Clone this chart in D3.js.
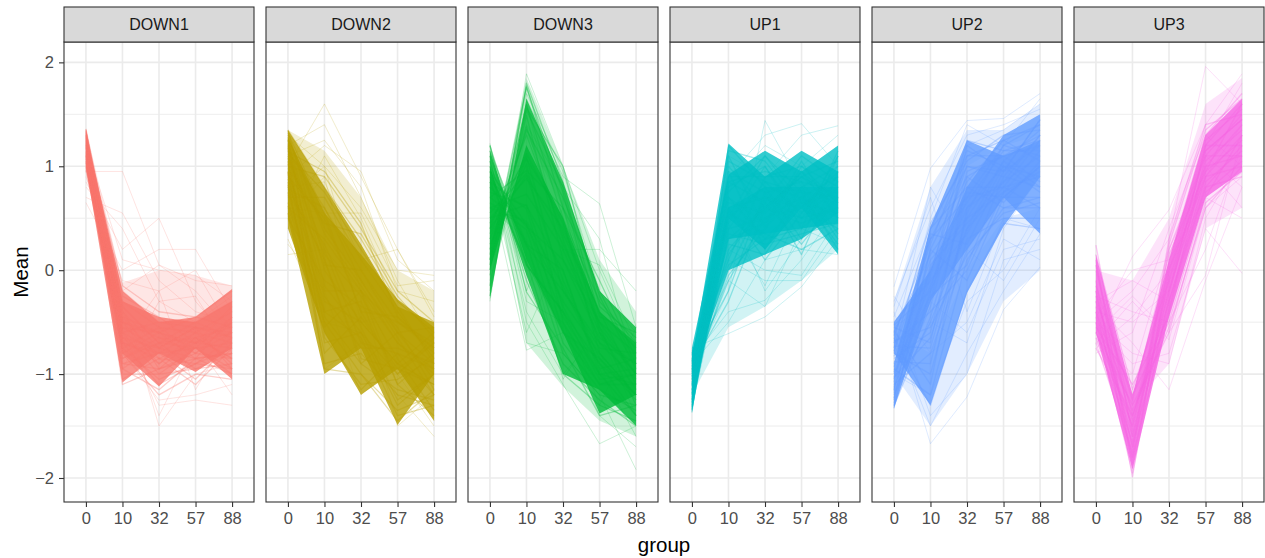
<!DOCTYPE html>
<html><head><meta charset="utf-8">
<script src="https://cdn.jsdelivr.net/npm/d3@7"></script>
<style>body{margin:0;background:#fff}svg{display:block}</style>
</head><body>
<svg id="c" width="1265" height="558"></svg>
<script>
const panels = ["DOWN1","DOWN2","DOWN3","UP1","UP2","UP3"];
const groups = ["0","10","32","57","88"];
const yTicks = [-2,-1,0,1,2];
const yMinor = [-1.5,-0.5,0.5,1.5];
const colors = ["#F8766D","#B79F00","#00BA38","#00BFC4","#619CFF","#F564E3"];

// dense cores of each cluster: pairs of edge profiles at groups 0,10,32,57,88
const down1Bands = [
 [[1.00,-1.08,-0.80,-0.98,-0.75],[1.36,-0.30,-0.45,-0.50,-0.30]],
 [[0.98,-0.80,-1.12,-0.75,-1.05],[1.30,-0.20,-0.50,-0.45,-0.18]]];
const down2Bands = [
 [[0.50,-1.00,-0.75,-1.49,-1.00],[1.35,0.80,0.25,-0.35,-0.50]],
 [[0.40,-0.60,-1.20,-0.95,-1.45],[1.28,0.55,0.15,-0.28,-0.55]]];
const down3Bands = [
 [[-0.28,1.65,0.85,-0.20,-0.55],[1.15,0.10,-0.60,-1.38,-1.20]],
 [[0.00,1.20,0.50,-0.40,-0.70],[1.00,-0.05,-1.00,-1.15,-1.50]]];
const up1Bands = [
 [[-1.37,0.50,0.20,0.60,0.15],[-0.85,1.22,0.90,1.15,0.95]],
 [[-1.30,0.30,0.35,0.40,0.45],[-0.75,0.92,1.15,0.95,1.20]],
 [[-1.00,0.00,0.15,0.30,0.55],[-0.80,0.60,0.80,0.80,0.80]]];
const up2Bands = [
 [[-1.33,-0.30,0.20,0.70,0.35],[-0.90,0.42,1.25,1.10,1.25]],
 [[-0.80,-1.30,-0.22,0.42,0.90],[-0.50,0.00,0.80,1.30,1.50]]];
const up3Bands = [
 [[-0.60,-1.92,-0.45,0.70,0.95],[0.15,-1.20,0.10,1.30,1.65]]];

// sparser spread around each core
const down1Halo = [[[1.00,-0.60,-0.60,-0.60,-0.55],[1.36,-0.12,0.00,-0.05,-0.15]]];
const down2Halo = [[[1.00,0.40,-0.10,-0.50,-0.80],[1.35,1.15,0.70,0.00,-0.20]]];
const down3Halo = [[[1.00,-0.70,-1.12,-1.45,-1.60],[1.20,0.20,-0.50,-1.00,-1.20]],
                   [[-0.20,1.30,0.60,-0.40,-0.70],[0.10,1.85,1.00,0.10,-0.40]]];
const up1Halo = [[[-1.20,-0.55,-0.35,-0.10,0.20],[-0.90,0.30,0.40,0.50,0.50]]];
const up2Halo = [[[-1.00,-1.50,-1.00,-0.30,0.00],[-0.60,-0.80,0.00,0.50,0.60]],
                 [[-0.80,0.00,1.00,1.20,1.30],[-0.30,0.80,1.35,1.35,1.60]]];
const up3Halo = [[[-0.70,-1.30,-0.90,0.40,0.60],[0.00,-0.10,0.50,1.60,1.85]]];

// individual trajectories (values at groups 0,10,32,57,88)
const down1Core = [
[1.36,-0.35,-0.70,-0.65,-0.55],[1.33,-0.60,-0.80,-0.75,-0.70],[1.30,-0.90,-0.95,-0.80,-0.85],[1.28,-0.45,-0.60,-0.70,-0.50],
[1.25,-0.75,-1.05,-0.90,-0.95],[1.22,-1.05,-0.85,-0.70,-0.75],[1.20,-0.55,-0.75,-0.55,-0.65],[1.18,-0.30,-0.55,-0.60,-0.40],
[1.15,-0.85,-0.70,-0.95,-0.80],[1.12,-0.65,-0.90,-0.60,-0.90],[1.10,-0.20,-0.50,-0.50,-0.30],[1.08,-0.95,-1.15,-0.85,-1.00],
[1.05,-0.50,-0.65,-0.80,-0.60],[1.03,-0.70,-0.80,-1.05,-0.70],[1.00,-0.40,-0.95,-0.65,-0.85],[0.98,-0.80,-0.60,-0.75,-0.45],
[1.35,-0.70,-0.85,-0.90,-0.75],[1.32,-1.00,-1.00,-0.75,-0.95],[1.27,-0.60,-0.50,-0.55,-0.60],[1.24,-0.40,-0.75,-0.85,-0.80],
[1.21,-0.80,-1.20,-1.00,-1.05],[1.17,-0.50,-0.60,-0.45,-0.55],[1.14,-0.25,-0.45,-0.70,-0.35],[1.11,-0.90,-0.80,-0.60,-0.70],
[1.07,-0.60,-1.00,-0.95,-0.90],[1.04,-0.35,-0.70,-0.50,-0.65],[1.01,-0.75,-0.55,-0.80,-0.50],[1.34,-0.50,-0.90,-0.65,-0.85],
[1.29,-0.85,-0.65,-0.70,-0.60],[1.19,-1.10,-0.95,-0.85,-0.80],[1.09,-0.45,-0.85,-1.10,-0.75],[0.96,-0.65,-0.75,-0.55,-0.95],
[1.26,-0.15,-0.40,-0.45,-0.20],[1.13,-0.95,-0.70,-0.75,-1.00],[1.23,-0.70,-1.10,-0.90,-0.65],[1.31,-0.55,-0.60,-0.85,-0.45]];
const down1Faint = [
[0.95,0.95,0.05,-0.20,-0.60],[0.70,0.55,-0.10,-0.40,-0.50],[0.85,0.20,0.50,-0.30,-0.70],[0.65,0.00,0.20,0.20,-0.40],
[1.20,0.10,0.00,-0.05,-0.30],[1.10,-0.30,-1.50,-1.00,-0.90],[1.00,-0.60,-1.30,-1.25,-1.30],[1.15,-0.20,0.05,-0.10,-0.15],
[1.25,-0.45,-1.40,-0.70,-1.20],[0.90,-0.10,-0.20,0.00,-0.60],[1.30,-0.80,-1.25,-1.20,-1.10],[0.80,0.40,-0.30,-0.50,-0.25],
[1.05,-0.95,-0.30,-0.25,-0.80],[1.18,-0.70,-0.20,-1.15,-0.55]];

const down2Core = [
[1.35,0.80,0.30,-0.30,-0.60],[1.30,0.40,-0.10,-0.60,-0.90],[1.25,0.00,-0.50,-0.90,-1.10],[1.20,-0.40,-0.30,-1.10,-0.80],
[1.15,0.60,0.00,-0.50,-0.70],[1.10,0.20,-0.70,-0.80,-1.20],[1.05,-0.70,-0.60,-1.30,-1.00],[1.00,0.90,0.40,-0.20,-0.50],
[0.95,-0.20,-0.20,-0.70,-0.95],[0.90,0.50,-0.40,-1.00,-0.70],[0.85,-0.90,-0.80,-1.20,-1.30],[0.80,0.10,-0.90,-0.60,-1.05],
[0.75,-0.50,-1.00,-1.45,-1.15],[0.70,0.70,0.10,-0.40,-0.85],[0.65,-0.30,-0.50,-0.90,-0.60],[0.60,0.30,-0.20,-1.10,-1.40],
[0.55,-0.60,-1.15,-0.80,-0.95],[0.50,-0.10,-0.35,-0.50,-0.75],[1.28,0.35,-0.15,-0.70,-1.00],[1.22,-0.15,-0.60,-1.00,-0.65],
[1.12,0.75,0.20,-0.35,-0.90],[1.02,-0.45,-0.90,-1.15,-1.25],[0.92,0.05,0.00,-0.60,-0.55],[0.82,-0.80,-0.45,-0.95,-1.10],
[1.32,0.55,-0.40,-0.45,-0.80],[1.18,-0.95,-1.00,-1.35,-1.20],[1.08,0.15,-0.25,-0.85,-1.35],[0.98,0.45,0.35,-0.25,-0.65],
[0.88,-0.25,-0.75,-0.75,-0.90],[0.72,0.25,-0.55,-1.25,-1.00],[1.26,-0.55,-0.20,-0.55,-1.15],[1.14,0.95,0.45,-0.45,-0.75],
[0.94,-0.65,-1.10,-1.05,-0.85],[0.78,0.60,-0.10,-0.65,-1.20],[1.34,0.10,-0.85,-0.95,-0.70],[0.62,-0.40,-0.65,-1.40,-1.30]];
const down2Faint = [
[1.00,1.60,0.90,0.20,-0.40],[1.20,1.40,0.70,-0.10,-0.70],[0.90,1.20,0.95,0.10,-0.20],[0.70,1.00,0.60,0.00,-0.05],
[0.40,1.10,0.50,-0.30,-0.60],[0.15,0.20,-0.20,-0.90,-1.10],[0.30,-0.50,-0.60,-1.20,-1.60],[1.10,1.25,0.80,-0.20,-0.30],
[0.80,0.85,0.10,0.20,-0.45],[0.25,-0.20,-1.20,-0.90,-1.45],[1.30,1.00,-0.20,-1.50,-1.20],[0.60,0.55,0.55,-0.15,-0.10],
[0.95,-0.95,-0.70,-1.00,-1.50],[0.50,0.90,-0.50,-0.40,-0.85]];

const down3Core = [
[1.20,0.05,-0.40,-0.90,-1.20],[1.10,0.08,-0.60,-1.10,-1.00],[1.00,0.23,-0.20,-0.70,-0.90],[0.90,0.26,-0.80,-1.20,-1.30],
[0.80,0.42,0.10,-0.50,-0.80],[0.70,0.44,-0.45,-1.00,-1.10],[0.60,0.73,0.20,-0.60,-1.00],[0.50,0.88,0.40,-0.40,-0.75],
[0.40,0.91,-0.10,-0.85,-1.25],[0.30,1.07,0.50,-0.30,-0.70],[0.20,1.35,0.70,-0.20,-0.90],[0.10,1.38,0.30,-0.70,-1.05],
[0.00,1.54,0.80,-0.45,-0.60],[-0.15,1.77,0.60,-0.60,-1.15],[-0.25,1.80,0.85,-0.25,-0.95],[1.15,0.25,0.00,-1.00,-1.40],
[0.95,0.44,-0.30,-0.80,-1.20],[0.85,0.08,-1.00,-1.30,-1.45],[0.75,0.62,0.00,-0.95,-0.85],[0.65,0.39,-0.70,-1.15,-1.35],
[0.55,0.93,0.25,-0.50,-1.00],[0.45,1.09,-0.20,-0.75,-0.80],[0.35,1.12,0.45,-0.55,-1.30],[0.25,1.02,-0.50,-1.10,-1.10],
[0.15,1.56,1.00,-0.35,-0.65],[0.05,1.59,0.50,-0.80,-1.20],[-0.05,1.49,0.10,-0.65,-0.90],[1.05,-0.10,-0.90,-1.25,-1.50],
[0.95,0.05,-0.40,-1.05,-1.00],[0.60,0.47,-0.15,-0.90,-1.40],[0.70,0.96,0.60,-0.10,-0.85],[0.40,1.30,0.35,-0.40,-1.10],
[0.10,1.76,0.75,-0.55,-1.00],[0.85,0.59,-0.60,-0.85,-1.20],[1.20,-0.21,-0.75,-1.40,-1.30],[0.50,0.63,-0.35,-1.00,-0.95]];
const down3Faint = [
[-0.30,1.89,1.00,0.00,-0.80],[-0.20,1.65,0.90,0.64,-0.55],[1.22,-0.50,-1.10,-1.67,-1.50],[1.10,-0.70,-0.80,-1.20,-1.92],
[1.00,-0.40,-1.00,-0.60,-1.40],[0.90,-0.60,0.20,0.20,-0.20],[0.00,1.70,0.95,-0.20,-0.60],[0.30,1.40,0.80,0.30,-1.00],
[1.15,-0.30,-0.50,-1.40,-1.70],[0.60,0.30,-1.05,-0.50,-1.20],[-0.10,1.20,-0.40,-1.30,-0.55],[0.80,-0.77,-0.60,-0.95,-1.60],
[0.20,1.60,0.20,0.05,-0.70],[1.05,-0.20,0.60,-0.40,-0.90]];

const up1Core = [
[-1.37,1.20,0.80,0.70,0.90],[-1.35,1.00,0.60,0.90,0.70],[-1.32,0.80,1.00,0.50,0.60],[-1.30,1.10,0.40,0.80,1.00],
[-1.28,0.60,0.70,0.60,0.40],[-1.25,0.90,0.90,1.00,0.80],[-1.22,0.40,0.50,0.70,0.50],[-1.20,0.70,0.30,0.40,0.70],
[-1.18,1.15,1.05,0.60,0.90],[-1.15,0.20,0.60,0.90,0.60],[-1.12,0.50,0.80,0.30,1.10],[-1.10,0.95,0.20,0.80,0.30],
[-1.08,0.00,0.70,0.50,0.80],[-1.05,0.30,0.45,1.05,0.50],[-1.02,0.75,1.10,0.75,0.70],[-1.00,-0.10,0.50,0.60,0.95],
[-0.98,0.55,0.35,0.20,0.40],[-0.95,0.10,0.90,0.90,1.05],[-0.92,-0.30,0.60,0.45,0.60],[-0.90,0.85,0.65,1.10,0.85],
[-0.88,0.25,0.15,0.70,0.25],[-0.85,-0.20,0.75,0.85,0.75],[-0.82,0.45,1.00,0.40,1.15],[-0.80,0.05,0.30,0.65,0.55],
[-1.34,0.65,0.55,0.95,0.65],[-1.27,1.05,0.85,0.55,1.00],[-1.19,0.35,0.25,0.35,0.45],[-1.11,0.85,0.95,0.85,0.35],
[-1.03,0.60,0.10,0.55,0.85],[-0.96,0.15,0.65,0.25,0.70],[-0.87,0.70,0.45,0.95,0.50],[-1.24,0.50,1.10,0.65,0.75],
[-1.16,0.95,0.75,0.15,0.95],[-0.93,0.40,0.85,0.75,0.20],[-1.06,-0.05,0.40,1.00,0.65],[-1.31,0.30,0.60,0.50,1.10]];
const up1Faint = [
[-0.75,-0.61,-0.45,-0.16,0.30],[-0.85,-0.40,-0.29,0.10,0.60],[-0.95,-0.20,1.44,0.80,0.90],[-1.10,0.90,1.30,1.41,1.00],
[-1.20,0.60,-0.20,0.30,0.80],[-0.80,0.10,-0.10,-0.10,0.40],[-1.00,1.10,0.90,1.30,1.39],[-0.90,-0.50,0.10,0.20,0.15],
[-1.25,0.80,1.20,1.00,1.30],[-0.78,-0.10,-0.35,0.40,0.25],[-1.15,0.20,0.00,-0.05,0.50],[-1.05,0.45,-0.15,0.60,0.20]];

const up2Core = [
[-1.33,0.20,0.90,1.10,1.20],[-1.30,-0.20,0.60,1.00,1.00],[-1.25,0.40,1.10,1.25,1.40],[-1.20,-0.50,0.40,0.80,0.90],
[-1.15,0.00,1.00,0.90,1.30],[-1.10,-0.80,0.20,0.70,0.70],[-1.05,0.30,0.70,1.20,1.10],[-1.00,-0.30,1.20,0.95,1.45],
[-0.95,-1.20,0.10,0.60,0.60],[-0.90,0.10,0.50,1.05,0.80],[-0.85,-0.60,0.80,0.80,1.25],[-0.80,-1.00,0.30,0.50,0.50],
[-0.75,0.45,1.05,1.30,1.35],[-0.70,-0.40,0.00,0.75,0.95],[-0.65,-1.30,-0.20,0.45,0.40],[-0.60,0.15,0.65,1.15,1.15],
[-0.55,-0.70,0.90,0.65,1.05],[-0.50,-0.10,0.35,1.00,0.75],[-1.28,0.05,0.45,0.85,1.30],[-1.18,-0.35,0.95,1.10,0.85],
[-1.08,0.35,0.25,0.95,1.20],[-0.98,-0.15,0.75,0.70,1.00],[-0.88,-0.90,0.55,1.20,1.40],[-0.78,0.25,1.15,1.00,0.90],
[-0.68,-0.55,0.15,0.55,0.65],[-0.58,-1.10,0.60,0.85,1.10],[-1.23,-0.05,1.25,1.15,1.25],[-1.13,0.40,0.80,0.60,0.70],
[-1.03,-0.65,0.40,1.05,1.35],[-0.93,-0.25,0.05,0.90,0.80],[-0.83,0.00,0.85,1.25,1.05],[-0.73,-0.75,0.50,0.75,1.15],
[-0.63,0.30,1.00,0.95,1.45],[-1.31,-0.45,0.70,0.80,0.60],[-1.16,0.20,-0.10,0.70,1.00],[-0.53,-0.20,1.10,1.10,1.30]];
const up2Faint = [
[-0.16,0.98,1.44,1.46,1.70],[-0.30,0.60,1.30,1.40,1.55],[-0.45,0.42,1.20,1.35,1.60],[-0.50,-1.67,-1.22,-0.38,0.03],
[-0.60,-1.50,-0.80,-0.20,0.35],[-0.40,-1.40,-1.00,0.10,0.20],[-0.70,0.80,0.20,-0.10,0.50],[-0.55,-0.30,-0.60,0.20,0.30],
[-0.35,0.70,-0.40,0.50,0.40],[-1.00,-1.20,-0.30,0.00,0.60],[-0.25,-0.80,-0.50,0.30,0.10],[-0.80,0.50,1.40,1.20,1.65],
[-1.10,-0.50,-0.70,0.40,0.90]];

const up3Core = [
[0.24,-1.60,-0.20,1.00,1.40],[0.10,-1.90,0.00,1.20,1.60],[0.00,-1.40,-0.40,0.80,1.20],[-0.10,-1.99,0.10,1.30,1.70],
[-0.20,-1.70,-0.30,0.90,1.00],[-0.30,-1.20,-0.50,0.70,1.30],[-0.40,-1.80,0.20,1.10,1.50],[-0.50,-1.50,-0.10,1.00,1.10],
[-0.60,-1.30,-0.60,0.65,0.95],[-0.70,-1.75,0.25,1.35,1.65],[-0.45,-1.60,-0.20,0.95,1.25],[-0.35,-1.85,-0.05,1.15,1.45],
[-0.55,-1.10,-0.45,0.75,1.05],[-0.25,-1.45,0.05,1.25,1.55],[-0.65,-1.65,-0.35,0.85,1.15],[0.05,-1.55,-0.15,1.05,1.35],
[-0.15,-1.25,0.15,0.95,1.60],[-0.50,-1.95,-0.25,1.20,1.20],[-0.40,-1.35,-0.55,0.60,1.00],[-0.30,-1.70,0.30,1.40,1.50],
[-0.60,-1.50,0.00,0.90,1.30],[-0.20,-1.80,-0.40,1.10,1.10],[0.15,-1.15,-0.10,1.15,1.45],[-0.75,-1.40,-0.30,0.80,0.90]];
const up3Faint = [
[-0.60,0.13,0.58,1.40,1.89],[-0.50,-0.20,0.30,1.96,1.60],[-0.40,-0.50,-0.20,1.20,1.80],[-0.70,-0.30,-0.67,0.60,0.90],
[-0.35,-0.70,-1.15,-0.10,0.80],[-0.55,-0.90,-0.80,0.40,-0.03],[-0.45,0.00,0.10,0.70,0.50],[-0.80,-0.60,0.40,1.30,1.00],
[-0.25,-0.40,-0.50,0.20,1.20],[-0.65,-1.00,0.20,1.00,0.60],[-0.30,-0.10,-0.30,0.90,1.40],[-0.50,-0.80,-0.90,0.50,1.10],
[-0.75,-0.45,0.00,1.10,0.80],[-0.60,-0.25,-0.60,-0.05,1.30]];

const bandSets = [down1Bands, down2Bands, down3Bands, up1Bands, up2Bands, up3Bands];
const haloSets = [down1Halo, down2Halo, down3Halo, up1Halo, up2Halo, up3Halo];
const coreSets = [down1Core, down2Core, down3Core, up1Core, up2Core, up3Core];
const faintSets = [down1Faint, down2Faint, down3Faint, up1Faint, up2Faint, up3Faint];

const svg = d3.select("#c");
const plotL = 64, plotR = 1264, stripT = 7, stripB = 42, plotB = 502;
const fx = d3.scaleBand().domain(panels).range([plotL, plotR]).paddingInner(12/202).paddingOuter(0);
const y = d3.scaleLinear().domain([-2.231, 2.196]).range([plotB, stripB]);

const font = "'Liberation Sans', Arial, Helvetica, sans-serif";

panels.forEach((p, i) => {
  const x0 = fx(p), w = fx.bandwidth();
  const x = d3.scalePoint().domain(groups).range([0, w]).padding(0.6);
  const g = svg.append("g").attr("transform", `translate(${x0},0)`);
  g.append("rect").attr("x",0).attr("y",stripB).attr("width",w).attr("height",plotB-stripB).attr("fill","#fff");
  g.selectAll(".mn").data(yMinor).join("line").attr("x1",0).attr("x2",w)
    .attr("y1",d=>y(d)).attr("y2",d=>y(d)).attr("stroke","#EBEBEB").attr("stroke-width",0.9);
  g.selectAll(".mj").data(yTicks).join("line").attr("x1",0).attr("x2",w)
    .attr("y1",d=>y(d)).attr("y2",d=>y(d)).attr("stroke","#EBEBEB").attr("stroke-width",1.6);
  g.selectAll(".vx").data(groups).join("line").attr("y1",stripB).attr("y2",plotB)
    .attr("x1",d=>x(d)).attr("x2",d=>x(d)).attr("stroke","#EBEBEB").attr("stroke-width",1.6);

  const line = d3.line().x((d,k)=>x(groups[k])).y(d=>y(d));
  const area = d3.area().x((d,k)=>x(groups[k])).y0(d=>y(d[0])).y1(d=>y(d[1]));
  g.append("g").selectAll("path").data(haloSets[i]).join("path")
    .attr("d", b => area(d3.zip(b[0], b[1])))
    .attr("fill",colors[i]).attr("fill-opacity",0.18).attr("stroke","none");
  g.append("g").selectAll("path").data(faintSets[i]).join("path")
    .attr("d", line).attr("fill","none").attr("stroke",colors[i])
    .attr("stroke-opacity",0.2).attr("stroke-width",1);
  g.append("g").selectAll("path").data(bandSets[i]).join("path")
    .attr("d", b => area(d3.zip(b[0], b[1])))
    .attr("fill",colors[i]).attr("fill-opacity",0.8).attr("stroke","none");
  g.append("g").selectAll("path").data(coreSets[i]).join("path")
    .attr("d", line).attr("fill","none").attr("stroke",colors[i])
    .attr("stroke-opacity",0.35).attr("stroke-width",1.3).attr("stroke-linejoin","round");
  g.append("rect").attr("x",0).attr("y",stripB).attr("width",w).attr("height",plotB-stripB)
    .attr("fill","none").attr("stroke","#333").attr("stroke-width",1.1);
  g.append("rect").attr("x",0).attr("y",stripT).attr("width",w).attr("height",stripB-stripT)
    .attr("fill","#D9D9D9").attr("stroke","#333").attr("stroke-width",1.1);
  g.append("text").attr("x",w/2).attr("y",(stripT+stripB)/2).attr("dy","0.36em")
    .attr("text-anchor","middle").attr("font-family",font).attr("font-size",16)
    .attr("fill","#1A1A1A").text(p);
  const ax = g.append("g").attr("transform",`translate(0,${plotB})`)
    .call(d3.axisBottom(x).tickSize(5).tickPadding(5));
  ax.select(".domain").remove();
  ax.selectAll(".tick line").attr("stroke","#333").attr("stroke-width",1.1);
  ax.selectAll(".tick text").attr("font-family",font).attr("font-size",16.5).attr("fill","#4D4D4D");
});

const ay = svg.append("g").attr("transform",`translate(${plotL},0)`)
  .call(d3.axisLeft(y).tickValues(yTicks).tickFormat(d3.format("d")).tickSize(5).tickPadding(5));
ay.select(".domain").remove();
ay.selectAll(".tick line").attr("stroke","#333").attr("stroke-width",1.1);
ay.selectAll(".tick text").attr("font-family",font).attr("font-size",16.5).attr("fill","#4D4D4D");

svg.append("text").attr("transform",`translate(28,${(stripB+plotB)/2}) rotate(-90)`)
  .attr("text-anchor","middle").attr("font-family",font).attr("font-size",20.5).attr("fill","#000").text("Mean");
svg.append("text").attr("x",(plotL+plotR)/2).attr("y",552)
  .attr("text-anchor","middle").attr("font-family",font).attr("font-size",20.5).attr("fill","#000").text("group");
</script>
</body></html>
